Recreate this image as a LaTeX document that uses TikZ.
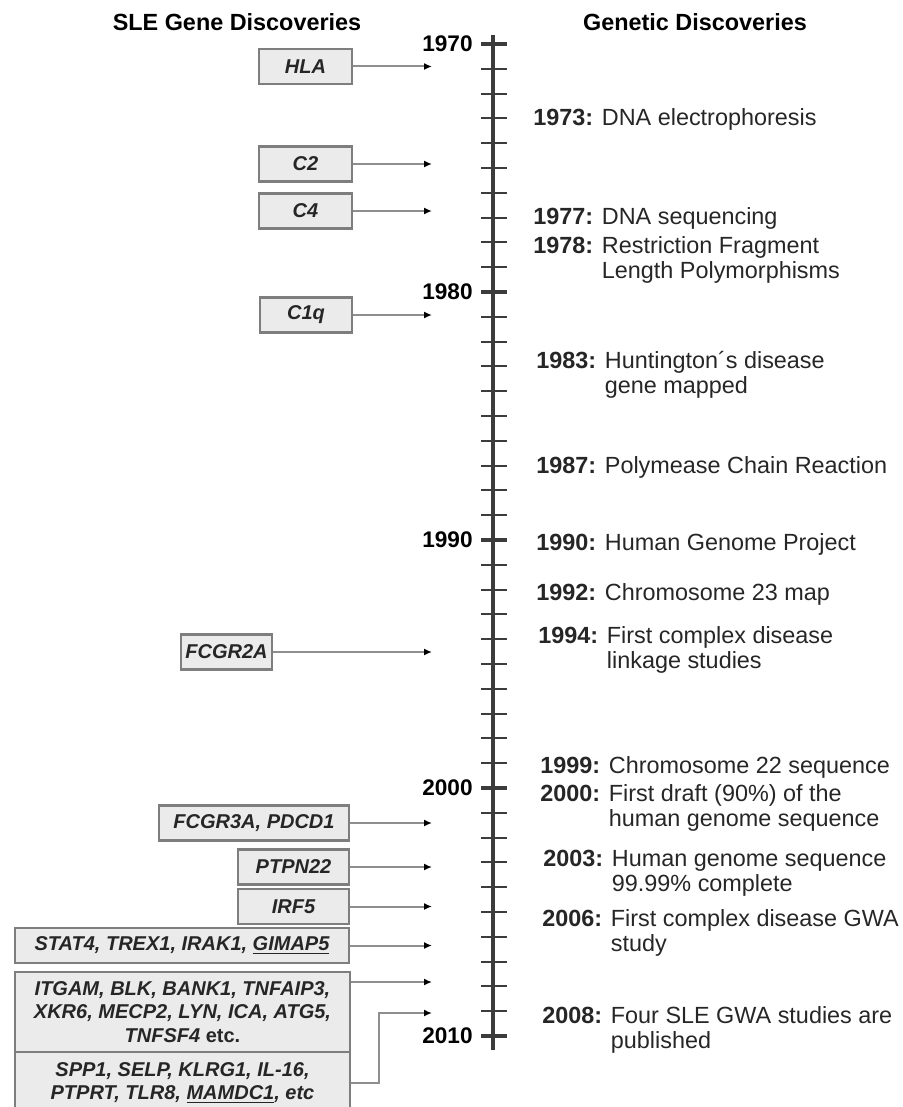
\documentclass[tikz,border=0pt]{standalone}
\usepackage{fontspec}
\setmainfont{Liberation Sans}
\usetikzlibrary{arrows.meta,positioning}
\definecolor{boxfill}{HTML}{EBEBEB}
\definecolor{boxline}{HTML}{7E7E7E}
\definecolor{axisgray}{HTML}{3C3C3C}
\definecolor{linkgray}{HTML}{8E8E8E}
\tikzset{
        genebox/.style = {draw=boxline, fill=boxfill, rectangle,
            line width=1.3pt, inner sep=1pt, align=center,
            minimum height=17.5pt, text=black!85,
            font=\fontsize{10}{11.8}\selectfont\bfseries\itshape},
        link/.style = {draw=linkgray, line width=1pt,
            -{Latex[length=4pt, width=3.5pt, color=black]}},
        yearlbl/.style = {inner sep=0pt,
            font=\fontsize{11.3}{13}\selectfont\bfseries},
        head/.style = {font=\fontsize{11.7}{13}\selectfont\bfseries},
        event/.style = {anchor=base west, inner sep=0pt, text=black!85,
            font=\fontsize{11.7}{12.8}\selectfont},
        yeartick/.style = {draw=axisgray, line width=1pt},
    }

\begin{document}
\begin{tikzpicture}[x=0.5pt, y=-0.5pt]
        \useasboundingbox (0,0) rectangle (903,1107);

        \node[head] (hleft) at (237,22) {SLE Gene Discoveries};
        \node[head] (hright) at (695,22) {Genetic Discoveries};

        % time axis
        \coordinate (atop) at (493,35);
        \coordinate (abot) at (493,1050);
        \draw[axisgray, line width=2pt] (atop) -- (abot);
        \foreach \yr in {0,...,40}
            \draw[yeartick] (481,44+24.8*\yr) -- ++(26,0);
        \foreach \d/\lbl in {0/1970,1/1980,2/1990,3/2000,4/2010} {
            \coordinate (d\lbl) at (481,44+248*\d);
            \draw[yeartick, line width=1.8pt] (d\lbl) -- ++(26,0);
            \node[yearlbl, left=4pt of d\lbl] (y\lbl) {\lbl};
        }

        % SLE genes
        \node[genebox, minimum width=46.5pt] (hla) at (305.5,66.5) {HLA};
        \node[genebox, minimum width=46.5pt] (c2) at (305.5,164) {C2};
        \node[genebox, minimum width=46.5pt] (c4) at (305.5,211) {C4};
        \node[genebox, minimum width=46pt] (c1q) at (306,315) {C1q};
        \node[genebox, minimum width=45.5pt] (fcgr2a) at (226.5,652) {FCGR2A};
        \node[genebox, minimum width=95pt] (fcgr3a) at (254,823) {FCGR3A, PDCD1};
        \node[genebox, minimum width=55.5pt] (ptpn22) at (293.5,867) {PTPN22};
        \node[genebox, minimum width=55.5pt] (irf5) at (293.5,906.5) {IRF5};
        \node[genebox, minimum width=167pt] (stat4) at (182,945.5)
            {STAT4, TREX1, IRAK1, \underline{GIMAP5}};
        \node[genebox, minimum width=167.5pt, minimum height=40pt] (itgam) at (182.5,1012)
            {ITGAM, BLK, BANK1, TNFAIP3,\\ XKR6, MECP2, LYN, ICA, ATG5,\\ TNFSF4 {\upshape etc.}};
        \node[genebox, minimum width=167.5pt, minimum height=31pt] (spp1) at (182.5,1083)
            {SPP1, SELP, KLRG1, IL-16,\\ PTPRT, TLR8, \underline{MAMDC1}, etc};

        \coordinate (thla) at (432,66.5);
        \coordinate (tc2) at (432,164);
        \coordinate (tc4) at (432,211);
        \coordinate (tc1q) at (432,315);
        \coordinate (tfcgr2a) at (432,652);
        \coordinate (tfcgr3a) at (432,823);
        \coordinate (tptpn22) at (432,867);
        \coordinate (tirf5) at (432,906.5);
        \coordinate (tstat4) at (432,945.5);
        \coordinate (titgam) at (432,982);
        \coordinate (tspp1) at (432,1013);

        \draw[link] (hla) -- (thla);
        \draw[link] (c2) -- (tc2);
        \draw[link] (c4) -- (tc4);
        \draw[link] (c1q) -- (tc1q);
        \draw[link] (fcgr2a) -- (tfcgr2a);
        \draw[link] (fcgr3a) -- (tfcgr3a);
        \draw[link] (ptpn22) -- (tptpn22);
        \draw[link] (irf5) -- (tirf5);
        \draw[link] (stat4) -- (tstat4);
        \draw[link] (itgam.east |- titgam) -- (titgam);
        \draw[link] (spp1.east) -- ++(28,0) |- (tspp1);

        % genetic discoveries
        \node[event] (e1973) at (533,126) {\textbf{1973:} DNA electrophoresis};
        \node[event] (e1977) at (533,225) {\textbf{1977:} DNA sequencing};
        \node[event] (e1978) at (533,253) {\begin{tabular}[t]{@{}l@{ }l@{}}
            \textbf{1978:} & Restriction Fragment\\ & Length Polymorphisms\end{tabular}};
        \node[event] (e1983) at (536,368) {\begin{tabular}[t]{@{}l@{ }l@{}}
            \textbf{1983:} & Huntington´s disease\\ & gene mapped\end{tabular}};
        \node[event] (e1987) at (536,473) {\textbf{1987:} Polymease Chain Reaction};
        \node[event] (e1990) at (536,550) {\textbf{1990:} Human Genome Project};
        \node[event] (e1992) at (536,600) {\textbf{1992:} Chromosome 23 map};
        \node[event] (e1994) at (538,643) {\begin{tabular}[t]{@{}l@{ }l@{}}
            \textbf{1994:} & First complex disease\\ & linkage studies\end{tabular}};
        \node[event] (e1999) at (540,773) {\textbf{1999:} Chromosome 22 sequence};
        \node[event] (e2000) at (540,801) {\begin{tabular}[t]{@{}l@{ }l@{}}
            \textbf{2000:} & First draft (90\%) of the\\ & human genome sequence\end{tabular}};
        \node[event] (e2003) at (543,866) {\begin{tabular}[t]{@{}l@{ }l@{}}
            \textbf{2003:} & Human genome sequence\\ & 99.99\% complete\end{tabular}};
        \node[event] (e2006) at (542,926) {\begin{tabular}[t]{@{}l@{ }l@{}}
            \textbf{2006:} & First complex disease GWA\\ & study\end{tabular}};
        \node[event] (e2008) at (542,1023) {\begin{tabular}[t]{@{}l@{ }l@{}}
            \textbf{2008:} & Four SLE GWA studies are\\ & published\end{tabular}};
    \end{tikzpicture}
\end{document}
